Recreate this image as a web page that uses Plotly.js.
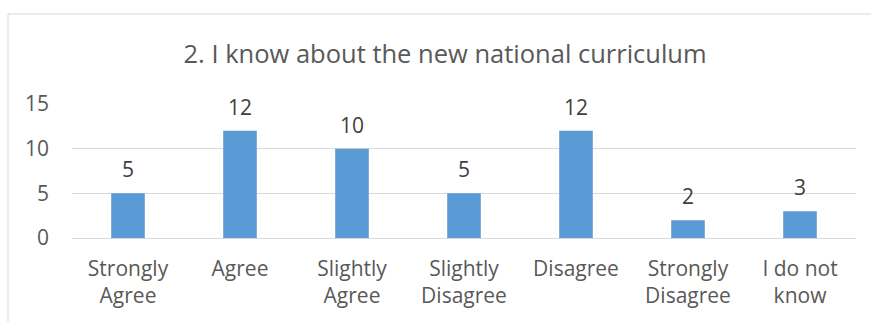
<!DOCTYPE html>
<html><head><meta charset="utf-8">
<script src="https://cdn.plot.ly/plotly-3.0.1.min.js"></script>
<style>html,body{margin:0;padding:0;background:#fff;}#chart{width:871px;height:322px;}</style>
</head><body><div id="chart"></div>
<script>
const categories = ["Strongly<br>Agree", "Agree", "Slightly<br>Agree", "Slightly<br>Disagree", "Disagree", "Strongly<br>Disagree", "I do not<br>know"];
const values = [5, 12, 10, 5, 12, 2, 3];
const yTicks = [0, 5, 10, 15];
const titleText = "2. I know about the new national curriculum";

const FONT = "Open Sans, sans-serif";
const trace = {
  type: "bar", x: categories, y: values,
  marker: {color: "#5B9BD5"},
  hoverinfo: "skip"
};
const annotations = categories.map((c, i) => ({
  x: c, y: values[i], xref: "x", yref: "y",
  text: String(values[i]), showarrow: false,
  yanchor: "bottom", yshift: 8,
  font: {family: FONT, size: 21, color: "#404040"}
}));
const layout = {
  width: 871, height: 322,
  margin: {l: 72, r: 15, t: 104, b: 84},
  paper_bgcolor: "#fff", plot_bgcolor: "#fff",
  bargap: 0.7,
  showlegend: false,
  title: {text: titleText, font: {family: FONT, size: 25.5, color: "#595959"},
          xref: "container", x: 0.511, xanchor: "center",
          yref: "container", y: 1 - 54/322, yanchor: "middle"},
  xaxis: {type: "category", showgrid: false, zeroline: false, showline: false,
          ticks: "", ticklabelstandoff: 16,
          tickfont: {family: FONT, size: 21, color: "#595959"}, fixedrange: true},
  yaxis: {range: [0, 15], tickvals: yTicks, showgrid: true, gridcolor: "#d9d9d9", gridwidth: 1,
          zeroline: true, zerolinecolor: "#d9d9d9", zerolinewidth: 1, showline: false,
          ticks: "", ticklabelstandoff: 22,
          tickfont: {family: FONT, size: 21, color: "#595959"}, fixedrange: true},
  annotations: annotations,
  shapes: [{type: "rect", xref: "paper", yref: "paper", x0: -64/784, x1: 1.2, y0: -1, y1: (238-14)/134,
            line: {color: "#d9d9d9", width: 1}, fillcolor: "rgba(0,0,0,0)", layer: "below"}]
};
Plotly.newPlot("chart", [trace], layout, {displayModeBar: false, staticPlot: true});
</script></body></html>
